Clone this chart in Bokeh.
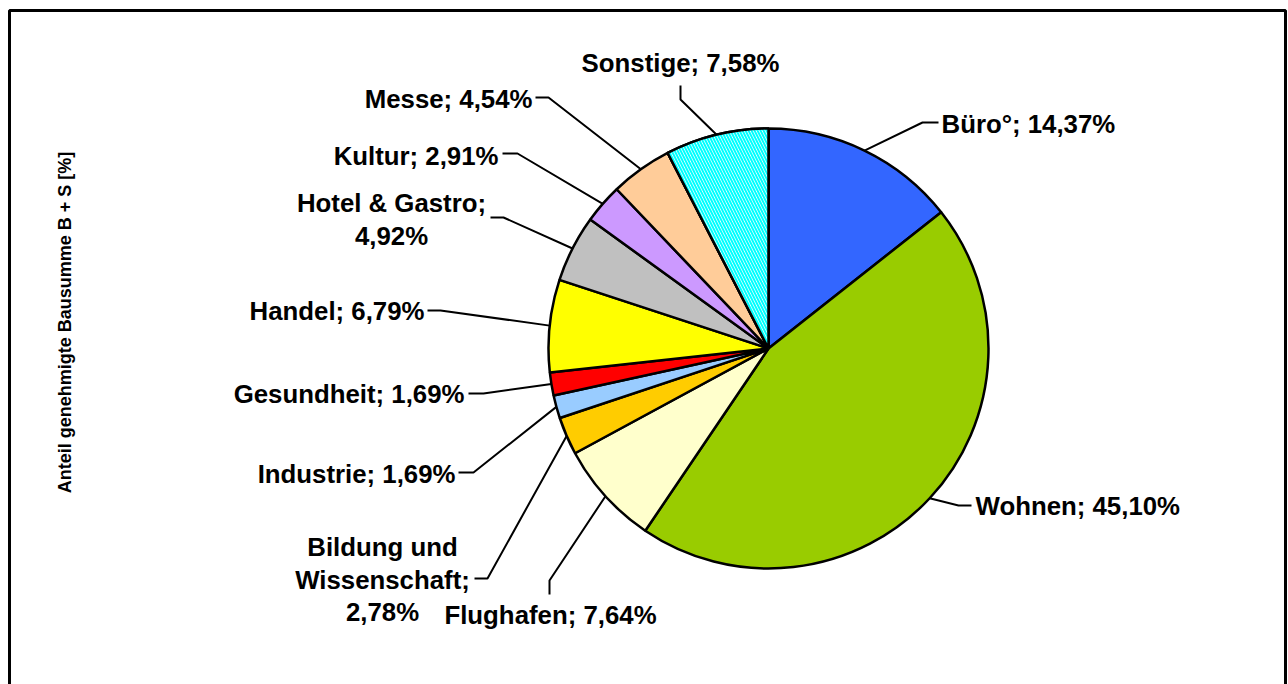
import math
from bokeh.plotting import figure
from bokeh.models import Range1d, ColumnDataSource, Label
from bokeh.embed import file_html
from bokeh.resources import INLINE

# ---- data ----
categories = ["Büro°", "Wohnen", "Flughafen", "Bildung und Wissenschaft", "Industrie",
              "Gesundheit", "Handel", "Hotel & Gastro", "Kultur", "Messe", "Sonstige"]
shares = [14.37, 45.10, 7.64, 2.78, 1.69, 1.69, 6.79, 4.92, 2.91, 4.54, 7.58]
colors = ["#3366FF", "#99CC00", "#FFFFCC", "#FFCC00", "#99CCFF", "#FF0000",
          "#FFFF00", "#C0C0C0", "#CC99FF", "#FFCC99", "#FFFFFF"]
axis_title = "Anteil genehmigte Bausumme B + S [%]"

# ---- layout (page pixel coordinates) ----
W, H = 1288, 684
FONT = "Liberation Sans"


def P(px, py):
    return px, H - py


CX, CY = P(768, 348)
R = 220

label_layout = {
    "Büro°": dict(lines=None, x=941, ys=[123], align="left", elbow=(922, 122), end=(938, 122)),
    "Wohnen": dict(lines=None, x=975, ys=[505], align="left", elbow=(958, 505), end=(971, 505)),
    "Flughafen": dict(lines=None, x=550, ys=[614], align="center", elbow=(549, 580), end=(549, 594)),
    "Bildung und Wissenschaft": dict(lines=["Bildung und", "Wissenschaft;", "{v}"], x=382,
                                     ys=[546, 579, 611], align="center", elbow=(487, 578), end=(474, 578)),
    "Industrie": dict(lines=None, x=455, ys=[473], align="right", elbow=(473, 472), end=(458, 472)),
    "Gesundheit": dict(lines=None, x=464, ys=[393], align="right", elbow=(483, 393), end=(468, 393)),
    "Handel": dict(lines=None, x=424, ys=[310], align="right", elbow=(440, 310), end=(427, 310)),
    "Hotel & Gastro": dict(lines=["Hotel & Gastro;", "{v}"], x=391, ys=[202, 235], align="center",
                           elbow=(503, 217), end=(490, 217)),
    "Kultur": dict(lines=None, x=498, ys=[155], align="right", elbow=(517, 153), end=(502, 153)),
    "Messe": dict(lines=None, x=532, ys=[98], align="right", elbow=(548, 97), end=(535, 97)),
    "Sonstige": dict(lines=None, x=680, ys=[62], align="center", elbow=(680, 99), end=(680, 85)),
}

p = figure(width=W, height=H, output_backend="svg", toolbar_location=None,
           x_range=Range1d(0, W), y_range=Range1d(0, H), min_border=0,
           background_fill_color="white", border_fill_color="white")
p.axis.visible = False
p.grid.visible = False
p.outline_line_color = None

# frame (left, top, right; bottom edge lies below the visible window)
p.line([9, 9, 1285, 1285], [0, H - 10, H - 10, 0], line_color="black", line_width=3)

# wedges (clockwise from 12 o'clock)
total = sum(shares)
starts, ends, mids = [], [], []
acc = 0.0
for s in shares:
    f0 = acc / total
    acc += s
    f1 = acc / total
    starts.append(math.pi / 2 - 2 * math.pi * f1)
    ends.append(math.pi / 2 - 2 * math.pi * f0)
    mids.append(math.pi / 2 - 2 * math.pi * (f0 + f1) / 2)

src = ColumnDataSource(dict(cat=categories, val=shares, start=starts, end=ends, color=colors))
p.wedge(x=CX, y=CY, radius=R, start_angle="start", end_angle="end", direction="anticlock",
        fill_color="color", line_color="black", line_width=2.5, source=src)

# hatch for "Sonstige"
idx = categories.index("Sonstige")
p.wedge(x=CX, y=CY, radius=R, start_angle=starts[idx], end_angle=ends[idx], direction="anticlock",
        fill_color="white", hatch_pattern="\\", hatch_color="#00FFFF", hatch_scale=6,
        hatch_weight=2, line_color="black", line_width=2.5)

# labels and leaders
for cat, val, mid in zip(categories, shares, mids):
    lay = label_layout[cat]
    vtxt = f"{val:.2f}".replace(".", ",") + "%"
    if lay["lines"] is None:
        lines = [f"{cat}; {vtxt}"]
    else:
        lines = [ln.format(v=vtxt) for ln in lay["lines"]]
    for ln, py in zip(lines, lay["ys"]):
        lx, ly = P(lay["x"], py)
        p.add_layout(Label(x=lx, y=ly, text=ln, text_font=FONT, text_font_style="bold",
                           text_font_size="25.8px", text_color="black", text_align=lay["align"],
                           text_baseline="middle"))
    ax = CX + R * math.cos(mid)
    ay = CY + R * math.sin(mid)
    ex, ey = P(*lay["elbow"])
    nx, ny = P(*lay["end"])
    p.line([ax, ex, nx], [ay, ey, ny], line_color="black", line_width=2)

# axis title (vertical)
tx, ty = P(64, 322)
p.add_layout(Label(x=tx, y=ty, text=axis_title, angle=math.pi / 2, text_font=FONT,
                   text_font_style="bold", text_font_size="18px", text_color="black",
                   text_align="center", text_baseline="middle"))

open("out.html", "w").write(file_html(p, INLINE))
